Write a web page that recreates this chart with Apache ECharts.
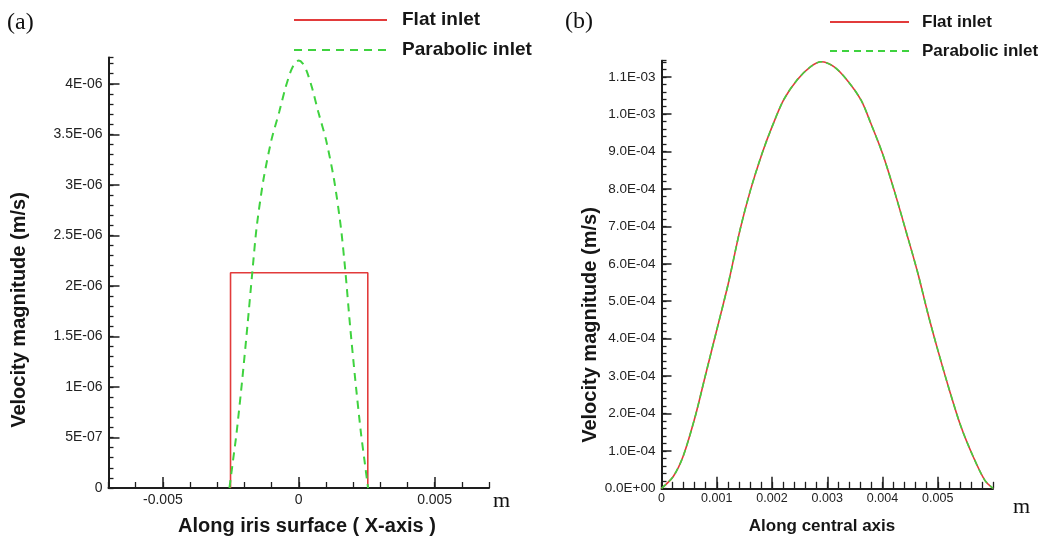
<!DOCTYPE html>
<html><head><meta charset="utf-8">
<script src="https://cdn.jsdelivr.net/npm/echarts@6/dist/echarts.min.js"></script>
<style>html,body{margin:0;padding:0;background:#fff}#c{width:1049px;height:542px}</style>
</head><body><div id="c"></div>
<script>
// ---------- Panel (a): along iris surface ----------
const xFlatA = [-0.00251, -0.00251, 0.00254, 0.00254];
const yFlatA = [0, 2.13e-6, 2.13e-6, 0];
const xParaA = [-0.00255, -0.00242, -0.00229, -0.00208, -0.00189, -0.00171, -0.00155, -0.0013, -0.001, -0.00072, -0.0005, -0.0003, -0.00015, 0,
                0.00015, 0.0003, 0.0005, 0.00072, 0.001, 0.0013, 0.00155, 0.00172, 0.00189, 0.00208, 0.00229, 0.00242, 0.00255];
const yParaA = [0, 0.27e-6, 0.54e-6, 1.07e-6, 1.60e-6, 2.13e-6, 2.58e-6, 3.05e-6, 3.45e-6, 3.72e-6, 3.95e-6, 4.12e-6, 4.20e-6, 4.23e-6,
                4.20e-6, 4.12e-6, 3.95e-6, 3.72e-6, 3.45e-6, 3.05e-6, 2.58e-6, 2.13e-6, 1.60e-6, 1.07e-6, 0.54e-6, 0.27e-6, 0];
const xTickValsA = [-0.005, 0, 0.005];
const xTickLabelsA = ['-0.005', '0', '0.005'];
const yTickValsA = [0, 5e-7, 1e-6, 1.5e-6, 2e-6, 2.5e-6, 3e-6, 3.5e-6, 4e-6];
const yTickLabelsA = ['0', '5E-07', '1E-06', '1.5E-06', '2E-06', '2.5E-06', '3E-06', '3.5E-06', '4E-06'];

// ---------- Panel (b): along central axis ----------
const xB = [0, 0.00021, 0.00039, 0.00061, 0.00079, 0.001, 0.00121, 0.00142, 0.00161, 0.00182, 0.002, 0.00221, 0.00245, 0.0027, 0.00289,
            0.00312, 0.00336, 0.00361, 0.00379, 0.004, 0.00421, 0.00442, 0.00464, 0.00482, 0.005, 0.00521, 0.00542, 0.00564, 0.00585, 0.006];
const yFlatB = [0, 0.31e-4, 0.85e-4, 1.92e-4, 2.99e-4, 4.23e-4, 5.48e-4, 6.90e-4, 7.97e-4, 8.95e-4, 9.66e-4, 10.38e-4, 10.91e-4, 11.27e-4, 11.40e-4,
                11.27e-4, 10.91e-4, 10.38e-4, 9.75e-4, 8.95e-4, 7.97e-4, 6.90e-4, 5.75e-4, 4.68e-4, 3.70e-4, 2.63e-4, 1.65e-4, 0.85e-4, 0.22e-4, 0];
const yParaB = [0, 0.31e-4, 0.85e-4, 1.92e-4, 2.99e-4, 4.23e-4, 5.48e-4, 6.90e-4, 7.97e-4, 8.95e-4, 9.66e-4, 10.38e-4, 10.91e-4, 11.27e-4, 11.40e-4,
                11.27e-4, 10.91e-4, 10.38e-4, 9.75e-4, 8.95e-4, 7.97e-4, 6.90e-4, 5.75e-4, 4.68e-4, 3.70e-4, 2.63e-4, 1.65e-4, 0.85e-4, 0.22e-4, 0];
const xTickValsB = [0, 0.001, 0.002, 0.003, 0.004, 0.005];
const xTickLabelsB = ['0', '0.001', '0.002', '0.003', '0.004', '0.005'];
const yTickValsB = [0, 1e-4, 2e-4, 3e-4, 4e-4, 5e-4, 6e-4, 7e-4, 8e-4, 9e-4, 1e-3, 1.1e-3];
const yTickLabelsB = ['0.0E+00', '1.0E-04', '2.0E-04', '3.0E-04', '4.0E-04', '5.0E-04', '6.0E-04', '7.0E-04', '8.0E-04', '9.0E-04', '1.0E-03', '1.1E-03'];

const seriesNames = ['Flat inlet', 'Parabolic inlet'];

const zip = (xs, ys) => xs.map((x, i) => [x, ys[i]]);
const AX = '#1e1e1e';
const FONT = 'Liberation Sans, Arial, sans-serif';

function lookup(vals, labels) {
  return function (v) {
    const i = vals.findIndex(t => Math.abs(t - v) <= Math.abs(t) * 1e-6 + 1e-12);
    return i >= 0 ? labels[i] : '';
  };
}
function mainAxis(o) {
  return {
    type: 'value', gridIndex: o.grid, min: o.min, max: o.max, interval: o.minor,
    position: o.pos,
    axisLine: { show: true, onZero: false, lineStyle: { color: AX, width: 2 } },
    axisTick: { show: true, inside: true, length: o.minorLen, lineStyle: { color: AX, width: 1.3 } },
    axisLabel: { show: true, customValues: o.vals, formatter: lookup(o.vals, o.labels), margin: o.margin,
                 color: '#222', fontFamily: FONT, fontSize: o.fs },
    splitLine: { show: false }
  };
}
function majorAxis(o) {
  return {
    type: 'value', gridIndex: o.grid, min: o.min, max: o.max, position: o.pos,
    axisLine: { show: false, onZero: false },
    axisTick: { show: true, inside: true, length: o.majorLen, customValues: o.vals, lineStyle: { color: AX, width: 1.5 } },
    axisLabel: { show: false },
    splitLine: { show: false }
  };
}

const xa = { grid: 0, min: -0.007, max: 0.007, minor: 0.001, pos: 'bottom', vals: xTickValsA, labels: xTickLabelsA, minorLen: 6, majorLen: 11, margin: 5, fs: 14 };
const ya = { grid: 0, min: 0, max: 4.26e-6, minor: 1e-7, pos: 'left', vals: yTickValsA, labels: yTickLabelsA, minorLen: 5, majorLen: 11, margin: 6, fs: 14 };
const xb = { grid: 1, min: 0, max: 0.006, minor: 0.0002, pos: 'bottom', vals: xTickValsB, labels: xTickLabelsB, minorLen: 6.5, majorLen: 11.5, margin: 4, fs: 12.5 };
const yb = { grid: 1, min: 0, max: 1.143e-3, minor: 2e-5, pos: 'left', vals: yTickValsB, labels: yTickLabelsB, minorLen: 5, majorLen: 10, margin: 6, fs: 13.5 };

const RED = '#e23b3b', GREEN = '#3fd23f';

const titleStyle = (size) => ({ fontFamily: FONT, fontWeight: 'bold', fontSize: size, fill: '#161616' });
const hiddenSymbol = { opacity: 0, borderWidth: 0 };

const option = {
  animation: false,
  backgroundColor: '#fff',
  grid: [
    { left: 108.5, top: 57.5, width: 380.5, height: 430.5, containLabel: false, outerBoundsMode: 'none' },
    { left: 661.5, top: 60.7, width: 331.5, height: 427.6, containLabel: false, outerBoundsMode: 'none' }
  ],
  xAxis: [mainAxis(xa), majorAxis(xa), mainAxis(xb), majorAxis(xb)],
  yAxis: [mainAxis(ya), majorAxis(ya), mainAxis(yb), majorAxis(yb)],
  legend: [
    { left: 288, top: 5, orient: 'vertical', itemWidth: 93, itemHeight: 14, itemGap: 10, selectedMode: false,
      itemStyle: hiddenSymbol,
      textStyle: { fontFamily: FONT, fontWeight: 'bold', fontSize: 19, lineHeight: 20, color: '#161616', padding: [0, 0, 0, 10] },
      data: [{ name: seriesNames[0] }, { name: seriesNames[1] }] },
    { left: 824, top: 8, orient: 'vertical', itemWidth: 79, itemHeight: 14, itemGap: 11, selectedMode: false,
      itemStyle: hiddenSymbol,
      textStyle: { fontFamily: FONT, fontWeight: 'bold', fontSize: 17, lineHeight: 18, color: '#161616', padding: [0, 0, 0, 8] },
      data: [{ name: seriesNames[0], lineStyle: { type: 'solid' } }, { name: seriesNames[1], lineStyle: { type: [7, 5] } }] }
  ],
  series: [
    { name: seriesNames[0], type: 'line', xAxisIndex: 0, yAxisIndex: 0, data: zip(xFlatA, yFlatA), symbol: 'none',
      lineStyle: { color: RED, width: 1.6 }, itemStyle: { color: RED }, z: 3 },
    { name: seriesNames[1], type: 'line', xAxisIndex: 0, yAxisIndex: 0, data: zip(xParaA, yParaA), symbol: 'none', smooth: 0.25,
      lineStyle: { color: GREEN, width: 2, type: [8, 6] }, itemStyle: { color: GREEN }, z: 4 },
    { name: seriesNames[0], type: 'line', xAxisIndex: 2, yAxisIndex: 2, data: zip(xB, yFlatB), symbol: 'none', smooth: 0.3,
      lineStyle: { color: RED, width: 1.6 }, itemStyle: { color: RED }, z: 3 },
    { name: seriesNames[1], type: 'line', xAxisIndex: 2, yAxisIndex: 2, data: zip(xB, yParaB), symbol: 'none', smooth: 0.3,
      lineStyle: { color: GREEN, width: 1.6, type: [6, 4] }, itemStyle: { color: GREEN }, z: 4 }
  ],
  graphic: [
    { type: 'text', x: 7, y: 23, style: { text: '(a)', fontFamily: 'Liberation Serif, Times New Roman, serif', fontSize: 24, fill: '#111', verticalAlign: 'middle' } },
    { type: 'text', x: 565, y: 22, style: { text: '(b)', fontFamily: 'Liberation Serif, Times New Roman, serif', fontSize: 24, fill: '#111', verticalAlign: 'middle' } },
    { type: 'text', x: 493, y: 501, style: { text: 'm', fontFamily: 'Liberation Serif, Times New Roman, serif', fontSize: 22, fill: '#111', verticalAlign: 'middle' } },
    { type: 'text', x: 1013, y: 507, style: { text: 'm', fontFamily: 'Liberation Serif, Times New Roman, serif', fontSize: 22, fill: '#111', verticalAlign: 'middle' } },
    { type: 'text', x: 307, y: 526, style: Object.assign({ text: 'Along iris surface ( X-axis )', align: 'center', verticalAlign: 'middle' }, titleStyle(20)) },
    { type: 'text', x: 822, y: 526, style: Object.assign({ text: 'Along central axis', align: 'center', verticalAlign: 'middle' }, titleStyle(17)) },
    { type: 'text', x: 19, y: 310, rotation: Math.PI / 2, style: Object.assign({ text: 'Velocity magnitude (m/s)', align: 'center', verticalAlign: 'middle' }, titleStyle(20)) },
    { type: 'text', x: 590, y: 325, rotation: Math.PI / 2, style: Object.assign({ text: 'Velocity magnitude (m/s)', align: 'center', verticalAlign: 'middle' }, titleStyle(20)) }
  ]
};

const chart = echarts.init(document.getElementById('c'), null, { renderer: 'canvas' });
chart.setOption(option);
</script>
</body></html>
